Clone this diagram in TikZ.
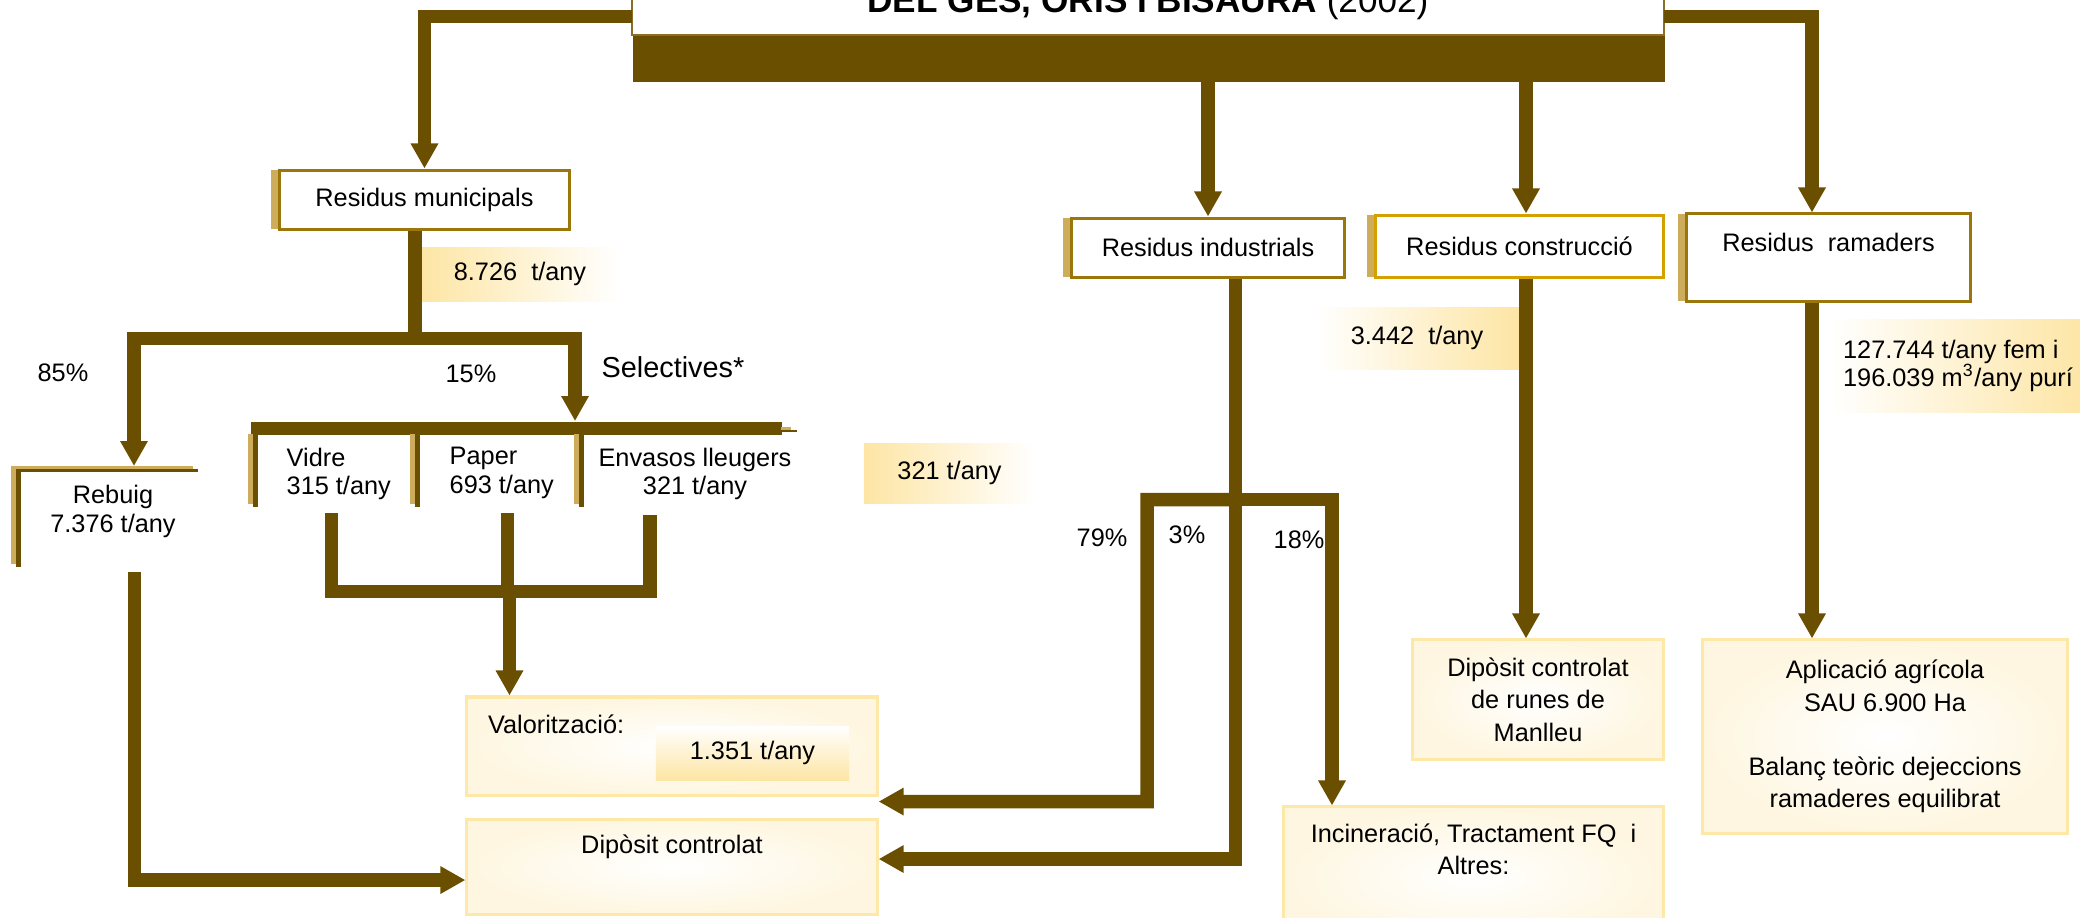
\documentclass[tikz,border=0pt]{standalone}
\usepackage{fontspec}
\setmainfont{Liberation Sans}
\usetikzlibrary{arrows.meta,positioning,shadows}

\definecolor{flowbrown}{RGB}{107,79,0}
\definecolor{boxgold}{RGB}{155,118,10}
\definecolor{consgold}{RGB}{212,160,0}
\definecolor{shadetan}{RGB}{205,172,92}
\definecolor{titleline}{RGB}{140,110,40}
\definecolor{paleline}{RGB}{253,232,168}
\definecolor{cream}{RGB}{254,246,224}
\definecolor{labelyel}{RGB}{253,229,164}

\newcommand{\nodefont}{\fontsize{7.2pt}{8.2pt}\selectfont}
\newcommand{\loosefont}{\fontsize{7.2pt}{9.2pt}\selectfont}
\newcommand{\titlefont}{\fontsize{10pt}{12pt}\selectfont}
\newcommand{\selfont}{\fontsize{8.2pt}{10pt}\selectfont}

\tikzset{
  flow/.style={draw=flowbrown, line width=0.135cm, line join=miter},
  flowarrow/.style={flow, -{Triangle[width=0.26cm,length=0.25cm]}},
  wastebox/.style={draw=boxgold, line width=0.03cm, fill=white, inner sep=0pt, font=\nodefont,
    drop shadow={shadow xshift=-0.085cm, shadow yshift=0cm, fill=shadetan, opacity=1}},
  destbox/.style={draw=paleline, line width=0.03cm, inner color=white, outer color=cream,
    inner sep=0pt, font=\loosefont, align=center},
  gradlabel/.style={inner sep=0pt, font=\nodefont, align=left},
  txt/.style={inner sep=0pt, font=\nodefont, align=center}
}

\begin{document}
\begin{tikzpicture}[x=0.01cm,y=-0.01cm]
\useasboundingbox (0,0) rectangle (2080,917);

% title and source bar
\draw[draw=titleline, line width=0.02cm, fill=white] (632,-80) rectangle (1664,35);
\node[font=\titlefont, inner sep=0pt, anchor=base] (title) at (1148,12) {\textbf{DEL GES, ORIS I BISAURA} (2002)};
\node[fill=flowbrown, inner sep=0pt, minimum width=10.32cm, minimum height=0.46cm, anchor=north west] (srcbar) at (632,35) {};

% waste types
\node[wastebox, minimum width=2.89cm, minimum height=0.59cm] (mun) at (424.5,199.5) {Residus municipals};
\node[wastebox, minimum width=2.72cm, minimum height=0.59cm] (ind) at (1208,247.5) {Residus industrials};
\node[wastebox, draw=consgold, minimum width=2.87cm, minimum height=0.62cm] (cons) at (1519.5,246) {Residus construcció};
\node[wastebox, minimum width=2.83cm, minimum height=0.87cm] (ram) at (1828.5,257.5) {};
\node[txt, below=0.2cm of ram.north] (ramtxt) {Residus~~ramaders};

% quantities
\node[gradlabel, left color=labelyel, right color=white, minimum width=2cm, minimum height=0.54cm] (munqty) at (520,274) {8.726~~t/any};
\node[gradlabel, left color=white, right color=labelyel, minimum width=2.04cm, minimum height=0.62cm] (consqty) at (1417,338) {3.442~~t/any};
\node[gradlabel, left color=white, right color=labelyel, inner xsep=0.13cm, minimum height=0.92cm] (ramqty) at (1958,366) {127.744 t/any fem i\\196.039 m\textsuperscript{3}/any purí};
\node[gradlabel, left color=labelyel, right color=white, minimum width=1.71cm, minimum height=0.60cm, align=center] (envqty) at (949.5,473) {321 t/any};

% rebuig
\fill[shadetan] (11,466) rectangle (193,469);
\fill[flowbrown] (16,469) rectangle (198,471.5);
\fill[shadetan] (11,466) rectangle (16,564);
\fill[flowbrown] (16,469) rectangle (21,567);
\node[txt] (rebuig) at (113,511.5) {Rebuig\\7.376 t/any};

% selectives
\node[fill=flowbrown, inner sep=0pt, minimum width=5.31cm, minimum height=0.13cm, anchor=north west] (selbar) at (250,421) {};
\fill[shadetan] (781,426.5) rectangle (791,429.5);
\fill[flowbrown] (781,429.5) rectangle (797,431.5);
\foreach \lx in {248,410,574} {
  \fill[shadetan] (\lx,434) rectangle (\lx+5,504);
  \fill[flowbrown] (\lx+5,434) rectangle (\lx+10,507);
}
\node[txt, anchor=west, align=left] (vidre) at (286,474) {Vidre\\315 t/any};
\node[txt, anchor=west, align=left] (paper) at (449,473) {Paper\\693 t/any};
\node[txt] (envasos) at (695,474) {Envasos lleugers\\321 t/any};

% percentages
\node[txt] (pct85) at (63,373) {85\%};
\node[txt] (pct15) at (471,374) {15\%};
\node[txt, font=\selfont] (selectives) at (673,367) {Selectives*};
\node[txt] (pct79) at (1102,538) {79\%};
\node[txt] (pct3) at (1187,535) {3\%};
\node[txt] (pct18) at (1299,540) {18\%};

% destinations
\node[destbox, minimum width=4.10cm, minimum height=0.98cm] (valor) at (672,746) {};
\node[txt, below right=0.19cm and 0.22cm of valor.north west] (valtxt) {Valorització:};
\node[gradlabel, top color=white, bottom color=labelyel, minimum width=1.93cm, minimum height=0.54cm, align=center] (valqty) at (752.5,753) {1.351 t/any};
\node[destbox, minimum width=4.10cm, minimum height=0.95cm] (dipo) at (672,866.5) {};
\node[txt, below=0.17cm of dipo.north] (dipotxt) {Dipòsit controlat};
\node[destbox, minimum width=3.79cm, minimum height=1.40cm] (incin) at (1473.5,877) {};
\node[txt, font=\loosefont, below=0.175cm of incin.north] (incintxt) {Incineració, Tractament FQ~~i\\Altres:};
\node[destbox, minimum width=2.50cm, minimum height=1.19cm] (runes) at (1538,699.5) {Dipòsit controlat\\de runes de\\Manlleu};
\node[destbox, minimum width=3.64cm, minimum height=1.93cm] (agri) at (1885,736.5) {Aplicació agrícola\\SAU 6.900 Ha\\[0.32cm]Balanç teòric dejeccions\\ramaderes equilibrat};

% connector points
\coordinate (tl) at (632,16.5);
\coordinate (tr) at (1664,16.5);
\coordinate (ramx) at (1812,0);
\coordinate (consx) at (1526,0);
\coordinate (munx) at (415,0);
\coordinate (munj) at (415,338.5);
\coordinate (rebin) at (134,466);
\coordinate (selx) at (575,0);
\coordinate (rebout) at (134.5,572);
\coordinate (vout) at (331.5,513);
\coordinate (pout) at (507.5,513);
\coordinate (eout) at (650,515);
\coordinate (selj) at (509.5,591.5);
\coordinate (indx) at (1235.5,0);
\coordinate (indj) at (1235.5,499.5);
\coordinate (incx) at (1332,0);

% flows from the source
\draw[flowarrow] (tl) -| (mun.north);
\draw[flowarrow] (tr) -| (ram.north -| ramx);
\draw[flowarrow] (srcbar.south -| ind.north) -- (ind.north);
\draw[flowarrow] (srcbar.south -| consx) -- (cons.north -| consx);

% municipal
\draw[flow] (mun.south -| munx) -- (munj);
\draw[flowarrow] (munj) -| (rebin);
\draw[flowarrow] (munj) -| (selbar.north -| selx);
\draw[flowarrow] (rebout) |- ([yshift=-0.135cm]dipo.west);
\draw[flow] (vout) |- (eout |- selj) -- (eout);
\draw[flow] (pout) -- (pout |- selj);
\draw[flowarrow] (selj) -- (valor.north -| selj);

% industrial
\draw[flow] (ind.south -| indx) -- (indj);
\draw[flowarrow] (indj) -| (1147,801.5) -- ([yshift=-0.05cm]valor.south east);
\draw[flowarrow] (indj) |- ([yshift=0.075cm]dipo.east);
\draw[flowarrow] (indj) -| (incin.north -| incx);

% construction and livestock
\draw[flowarrow] (cons.south -| consx) -- (runes.north -| consx);
\draw[flowarrow] (ram.south -| ramx) -- (agri.north -| ramx);

\end{tikzpicture}
\end{document}
